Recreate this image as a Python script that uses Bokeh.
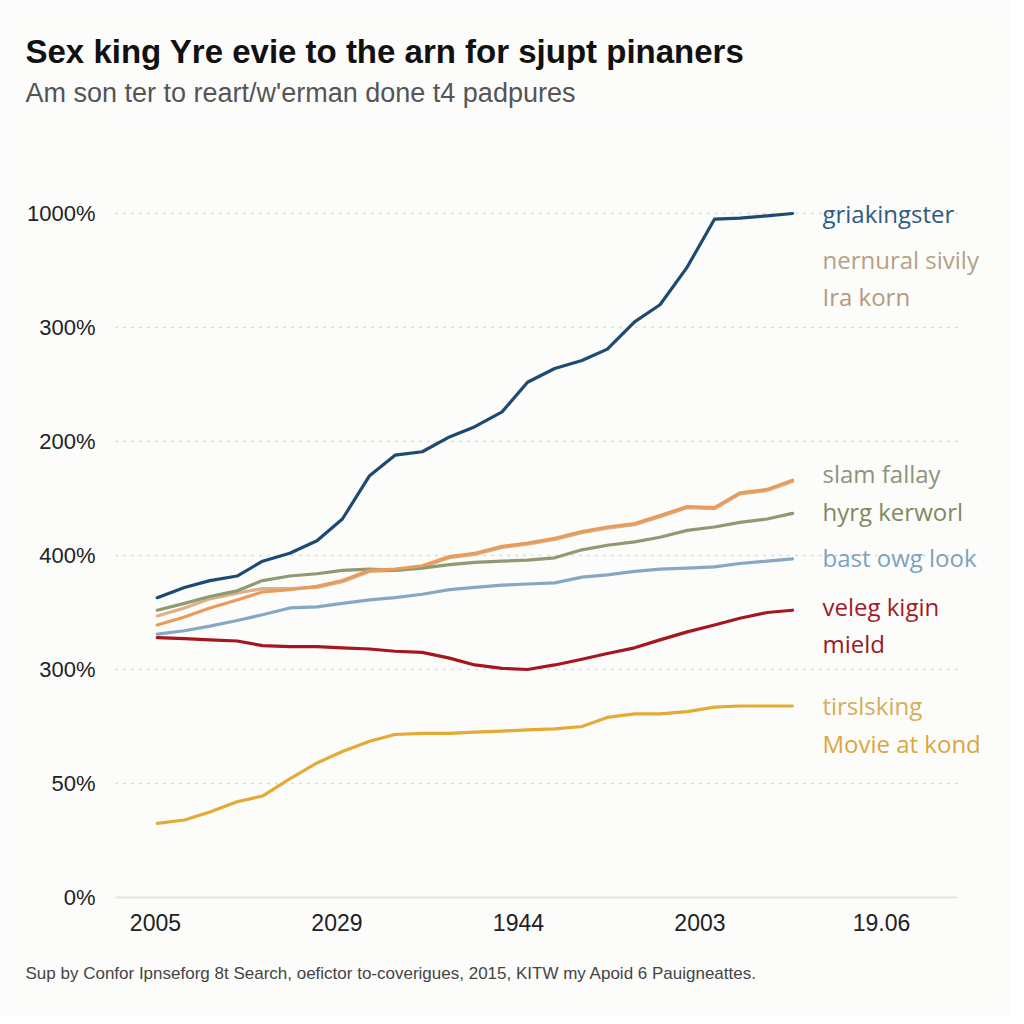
from bokeh.plotting import figure
from bokeh.models import Title, ColumnDataSource, FixedTicker, Range1d
from bokeh.core.properties import value
from bokeh.embed import file_html
from bokeh.resources import INLINE

# ---------------- data ----------------
x_pos = [0.01, 0.16, 0.30, 0.45, 0.59, 0.74, 0.89, 1.03, 1.18, 1.32, 1.47, 1.62, 1.76,
         1.91, 2.05, 2.20, 2.35, 2.49, 2.64, 2.78, 2.93, 3.08, 3.22, 3.37, 3.51]

s_blue = [2.63, 2.72, 2.78, 2.82, 2.95, 3.02, 3.13, 3.32, 3.70, 3.88, 3.91, 4.04, 4.13,
          4.26, 4.52, 4.64, 4.71, 4.81, 5.05, 5.20, 5.53, 5.95, 5.96, 5.98, 6.00]
s_olive = [2.52, 2.58, 2.64, 2.69, 2.78, 2.82, 2.84, 2.87, 2.88, 2.87, 2.89, 2.92, 2.94,
           2.95, 2.96, 2.98, 3.05, 3.09, 3.12, 3.16, 3.22, 3.25, 3.29, 3.32, 3.37]
s_tan = [2.47, 2.54, 2.62, 2.67, 2.71, 2.71, 2.72, 2.77, 2.86, 2.87, 2.90, 2.98, 3.01,
         3.07, 3.10, 3.14, 3.20, 3.24, 3.27, 3.34, 3.42, 3.41, 3.54, 3.57, 3.65]
s_orange = [2.39, 2.46, 2.54, 2.61, 2.68, 2.70, 2.73, 2.78, 2.87, 2.88, 2.91, 2.99, 3.02,
            3.08, 3.11, 3.15, 3.21, 3.25, 3.28, 3.35, 3.43, 3.42, 3.55, 3.58, 3.66]
s_lightblue = [2.31, 2.34, 2.38, 2.43, 2.48, 2.54, 2.55, 2.58, 2.61, 2.63, 2.66, 2.70, 2.72,
               2.74, 2.75, 2.76, 2.81, 2.83, 2.86, 2.88, 2.89, 2.90, 2.93, 2.95, 2.97]
s_red = [2.28, 2.27, 2.26, 2.25, 2.21, 2.20, 2.20, 2.19, 2.18, 2.16, 2.15, 2.10, 2.04,
         2.01, 2.00, 2.04, 2.09, 2.14, 2.19, 2.26, 2.33, 2.39, 2.45, 2.50, 2.52]
s_yellow = [0.65, 0.68, 0.75, 0.84, 0.89, 1.04, 1.18, 1.28, 1.37, 1.43, 1.44, 1.44, 1.45,
            1.46, 1.47, 1.48, 1.50, 1.58, 1.61, 1.61, 1.63, 1.67, 1.68, 1.68, 1.68]

x_ticks = [0, 1, 2, 3, 4]
x_tick_labels = ["2005", "2029", "1944", "2003", "19.06"]
y_ticks = [0, 1, 2, 3, 4, 5, 6]
y_tick_labels = ["0%", "50%", "300%", "400%", "200%", "300%", "1000%"]

label_texts = ["griakingster", "nernural sivily", "Ira korn", "slam fallay", "hyrg kerworl",
               "bast owg look", "veleg kigin", "mield", "tirslsking", "Movie at kond"]
label_y = [6.00, 5.60, 5.27, 3.72, 3.39, 2.98, 2.55, 2.23, 1.68, 1.35]
label_colors = ["#2f5b80", "#b8a084", "#b59a7c", "#8d9479", "#7f8a60",
                "#7ea2bd", "#a11b26", "#9a1a24", "#d6ad58", "#d9a741"]
label_x = 3.675

title_text = "Sex king Yre evie to the arn for sjupt pinaners"
subtitle_text = "Am son ter to reart/w'erman done t4 padpures"
footer_text = ("Sup by Confor Ipnseforg 8t Search, oefictor to-coverigues, 2015, "
               "KITW my Apoid 6 Pauigneattes.")

series = [
    (s_lightblue, "#86a8c3"),
    (s_red, "#a5161f"),
    (s_yellow, "#e3ab33"),
    (s_tan, "#dcb088"),
    (s_olive, "#8e9a70"),
    (s_orange, "#e89c5c"),
    (s_blue, "#1d4a72"),
]

X_START, X_GRID_END, X_END = -0.22, 4.42, 4.656

# ---------------- figure ----------------
BG = "#fcfcfb"
p = figure(width=1010, height=1016, output_backend="svg", toolbar_location=None,
           x_range=Range1d(X_START, X_END), y_range=Range1d(0, 6.886),
           min_border_left=115, min_border_right=10, min_border_top=112,
           min_border_bottom=119, background_fill_color=BG, border_fill_color=BG,
           outline_line_color=None, title=None)

for vals, col in series:
    p.line(x_pos, vals, line_color=col, line_width=3.2, line_join="round", line_cap="round")

src = ColumnDataSource(dict(x=[label_x] * len(label_texts), y=label_y,
                            text=label_texts, color=label_colors))
p.text(x="x", y="y", text="text", text_color="color", source=src,
       text_font=value("Open Sans"), text_font_size="24px",
       text_baseline="middle", text_align="left")

# axes
p.xaxis.ticker = FixedTicker(ticks=x_ticks)
p.xaxis.major_label_overrides = {t: l for t, l in zip(x_ticks, x_tick_labels)}
p.yaxis.ticker = FixedTicker(ticks=y_ticks)
p.yaxis.major_label_overrides = {t: l for t, l in zip(y_ticks, y_tick_labels)}
for ax in (p.xaxis[0], p.yaxis[0]):
    ax.major_tick_line_color = None
    ax.minor_tick_line_color = None
    ax.major_label_text_font = "Liberation Sans"
    ax.major_label_text_color = "#222222"
p.xaxis.major_label_text_font_size = "23px"
p.yaxis.major_label_text_font_size = "22px"
p.yaxis.axis_line_color = None
p.yaxis.major_label_standoff = 14
p.xaxis.axis_line_color = "#e6e6e6"
p.xaxis.axis_line_width = 2
p.xaxis.bounds = (X_START, X_GRID_END)
p.xaxis.major_label_standoff = 10

p.xgrid.grid_line_color = None
p.ygrid.grid_line_color = "#cfcfcf"
p.ygrid.grid_line_dash = "2 6"
p.ygrid.grid_line_width = 1.5
p.ygrid.cross_bounds = (X_START, X_GRID_END)

# titles
sub = Title(text=subtitle_text, align="left", offset=-90, standoff=10,
            text_font="Liberation Sans", text_font_size="27px", text_font_style="normal",
            text_color="#555555")
p.add_layout(sub, "above")
main = Title(text=title_text, align="left", offset=-90, standoff=2,
             text_font="Liberation Sans", text_font_size="33px", text_font_style="bold",
             text_color="#111111")
p.add_layout(main, "above")
foot = Title(text=footer_text, align="left", offset=-90, standoff=56,
             text_font="Liberation Sans", text_font_size="17px", text_font_style="normal",
             text_color="#444444")
p.add_layout(foot, "below")

open("out.html", "w").write(file_html(p, INLINE))
